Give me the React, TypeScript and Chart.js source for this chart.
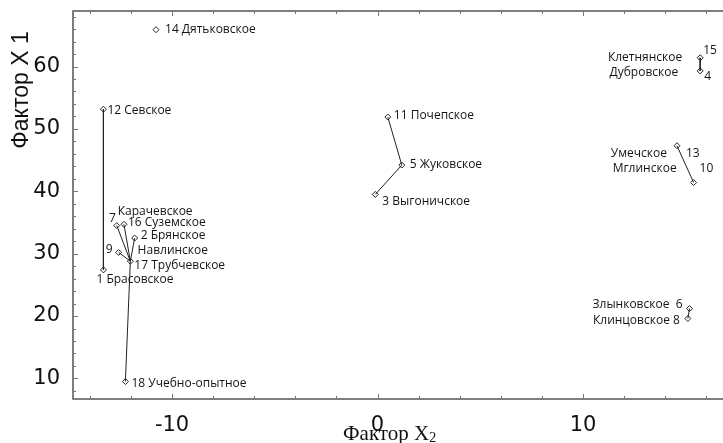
import React, { useEffect, useRef } from "react";
import { Chart, registerables } from "chart.js";

Chart.register(...registerables);

// Factor X2 (horizontal) and Factor X1 (vertical) per district
const ids = [1, 2, 3, 4, 5, 6, 7, 8, 9, 10, 11, 12, 13, 14, 15, 16, 17, 18];
const factorX2 = [-13.34, -11.82, -0.11, 15.7, 1.18, 15.18, -12.69, 15.1, -12.6, 15.38, 0.5, -13.34, 14.57, -10.78, 15.7, -12.34, -12.03, -12.27];
const factorX1 = [27.4, 32.5, 39.5, 59.3, 44.2, 21.2, 34.5, 19.6, 30.2, 41.4, 51.9, 53.16, 47.3, 65.9, 61.4, 34.7, 28.8, 9.5];
// labels: [text left of point (right-aligned), text right of point]
const leftText = ["", "", "", "Дубровское", "", "Злынковское  6", "7", "Клинцовское 8", "9", "Мглинское", "", "", "Умечское", "", "Клетнянское", "", "", ""];
const rightText = ["1 Брасовское", "2 Брянское", "3 Выгоничское", "4", "5 Жуковское", "", "Карачевское", "", "Навлинское", "10", "11 Почепское", "12 Севское", "13", "14 Дятьковское", "15", "16 Суземское", "17 Трубчевское", "18 Учебно-опытное"];
// tree links between districts (by id)
const links: [number, number][] = [
  [12, 1], [7, 17], [16, 17], [2, 17], [9, 17], [17, 18],
  [11, 5], [5, 3], [15, 4], [13, 10], [6, 8],
];
const xTicks = [-10, 0, 10];
const yTicks = [10, 20, 30, 40, 50, 60];
const xRange = [-14.82, 16.81];
const yRange = [6.7, 68.9];

// label offsets in px (style only): [leftDx, leftDy, rightDx, rightDy]
const labelOffsets: Record<number, number[]> = {
  1: [0, 0, -7, 10], 2: [0, 0, 6, -2], 3: [0, 0, 7, 7], 4: [-22, 2, 4, 6],
  5: [0, 0, 8, 0], 6: [-7, -4, 0, 0], 7: [-1, -7, 1, -14], 8: [-8, 2, 0, 0],
  9: [-6, -3, 19, -2], 10: [-17, -14, 6, -14], 11: [0, 0, 6, -1], 12: [0, 0, 4, 1],
  13: [-10, 8, 9, 8], 14: [0, 0, 9, 0], 15: [-18, 0, 3, -7], 16: [0, 0, 4, -2],
  17: [0, 0, 4, 4], 18: [0, 0, 6, 2],
};

const decorPlugin = {
  id: "decor",
  afterDatasetsDraw(chart: any) {
    const { ctx, scales } = chart;
    const xs = scales.x;
    const ys = scales.y;
    ctx.save();
    ctx.font = "12px 'Open Sans'";
    ctx.fillStyle = "#141414";
    ctx.textBaseline = "middle";
    ids.forEach((id, i) => {
      const px = xs.getPixelForValue(factorX2[i]);
      const py = ys.getPixelForValue(factorX1[i]);
      const o = labelOffsets[id];
      if (leftText[i]) {
        ctx.textAlign = "right";
        ctx.fillText(leftText[i], px + o[0], py + o[1]);
      }
      if (rightText[i]) {
        ctx.textAlign = "left";
        ctx.fillText(rightText[i], px + o[2], py + o[3]);
      }
    });
    ctx.restore();
  },
  afterDraw(chart: any) {
    const { ctx, chartArea, scales } = chart;
    const xs = scales.x;
    const ys = scales.y;
    const { left, top, bottom } = chartArea;
    const right = chart.width + 2;
    ctx.save();
    ctx.strokeStyle = "#555";
    ctx.lineWidth = 1.5;
    ctx.beginPath();
    ctx.moveTo(right, top);
    ctx.lineTo(left, top);
    ctx.lineTo(left, bottom);
    ctx.lineTo(right, bottom);
    ctx.stroke();
    ctx.lineWidth = 1;
    ctx.strokeStyle = "#777";
    ctx.beginPath();
    for (let v = -14; v <= 16; v += 2) {
      const p = Math.round(xs.getPixelForValue(v)) + 0.5;
      const len = v % 10 === 0 ? 5 : 3;
      ctx.moveTo(p, bottom);
      ctx.lineTo(p, bottom - len);
      ctx.moveTo(p, top);
      ctx.lineTo(p, top + len);
    }
    for (let v = 8; v <= 68; v += 2) {
      const p = Math.round(ys.getPixelForValue(v)) + 0.5;
      const len = v % 10 === 0 ? 5 : 3;
      ctx.moveTo(left, p);
      ctx.lineTo(left + len, p);
    }
    ctx.stroke();
    // axis titles
    ctx.fillStyle = "#111";
    ctx.save();
    ctx.translate(22, 90);
    ctx.rotate(-Math.PI / 2);
    ctx.font = "23px 'Liberation Sans'";
    ctx.textAlign = "center";
    ctx.textBaseline = "middle";
    ctx.fillText("Фактор X 1", 0, 0);
    ctx.restore();
    ctx.font = "21px 'Liberation Serif'";
    ctx.textAlign = "left";
    ctx.textBaseline = "alphabetic";
    const t = "Фактор X";
    const w = ctx.measureText(t).width;
    const sx = 343;
    ctx.fillText(t, sx, 440);
    ctx.font = "14px 'Liberation Serif'";
    ctx.fillText("2", sx + w, 442);
    ctx.restore();
  },
};

export default function App() {
  const ref = useRef<HTMLCanvasElement>(null);
  useEffect(() => {
    document.body.style.margin = "0";
    const pts = ids.map((_, i) => ({ x: factorX2[i], y: factorX1[i] }));
    const idx = (id: number) => ids.indexOf(id);
    const lineSets = links.map(([a, b]) => ({
      type: "scatter" as const,
      data: [pts[idx(a)], pts[idx(b)]],
      showLine: true,
      borderColor: "#222",
      borderWidth: 1,
      pointRadius: 0,
    }));
    const chart = new Chart(ref.current!, {
      type: "scatter",
      data: {
        datasets: [
          ...lineSets,
          {
            data: pts,
            pointStyle: "rectRot",
            pointRadius: 3,
            pointBackgroundColor: "#fff",
            pointBorderColor: "#222",
            pointBorderWidth: 1,
          },
        ] as any,
      },
      options: {
        animation: false,
        responsive: false,
        layout: { autoPadding: false, padding: { top: 11, right: 0, left: 0, bottom: 0 } },
        plugins: { legend: { display: false }, tooltip: { enabled: false } },
        scales: {
          x: {
            type: "linear",
            min: xRange[0],
            max: xRange[1],
            afterBuildTicks: (s: any) => { s.ticks = xTicks.map((v) => ({ value: v })); },
            afterFit: (s: any) => { s.height = 44; s.paddingLeft = 0; s.paddingRight = 0; },
            grid: { display: false },
            border: { display: false },
            ticks: { font: { family: "DejaVu Sans", size: 21 }, color: "#111", padding: 6 },
          },
          y: {
            type: "linear",
            min: yRange[0],
            max: yRange[1],
            afterBuildTicks: (s: any) => { s.ticks = yTicks.map((v) => ({ value: v })); },
            afterFit: (s: any) => { s.width = 73; s.paddingTop = 0; s.paddingBottom = 0; },
            grid: { display: false },
            border: { display: false },
            ticks: { font: { family: "DejaVu Sans", size: 21 }, color: "#111", padding: 5 },
          },
        },
      },
      plugins: [decorPlugin],
    });
    return () => chart.destroy();
  }, []);
  return (
    <div style={{ width: 723, height: 443 }}>
      <canvas ref={ref} width={723} height={443} />
    </div>
  );
}
